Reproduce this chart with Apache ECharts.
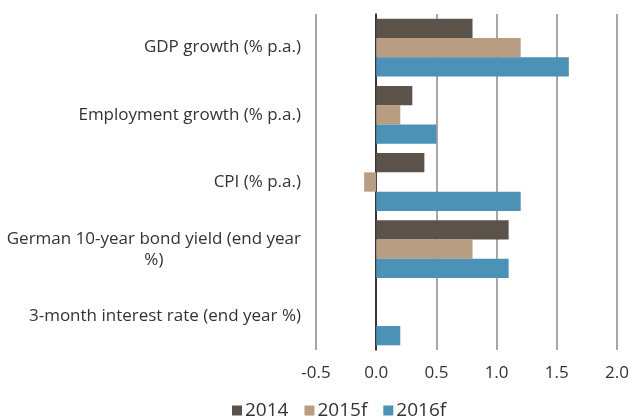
<!DOCTYPE html>
<html>
<head>
<meta charset="utf-8">
<script src="https://cdn.jsdelivr.net/npm/echarts@6/dist/echarts.min.js"></script>
<style>
  html, body { margin: 0; padding: 0; background: #fff; }
  #chart { width: 635px; height: 417px; }
</style>
</head>
<body>
<div id="chart"></div>
<script>
// categories, top to bottom
const categories = [
  'GDP growth (% p.a.)',
  'Employment growth (% p.a.)',
  'CPI (% p.a.)',
  'German 10-year bond yield (end year\n%)',
  '3-month interest rate (end year %)'
];
const seriesNames = ['2014', '2015f', '2016f'];
const values2014 = [0.8, 0.3, 0.4, 1.1, 0.0];
const values2015f = [1.2, 0.2, -0.1, 0.8, 0.0];
const values2016f = [1.6, 0.5, 1.2, 1.1, 0.2];
const xTicks = { min: -0.5, max: 2.0, step: 0.5 };

const colors = ['#5b5249', '#b99d82', '#4c91b6'];
const font = '"Open Sans", "DejaVu Sans", sans-serif';

const myChart = echarts.init(document.getElementById('chart'));

function bar(name, data, i) {
  return {
    name: name,
    type: 'bar',
    data: data,
    barGap: '0%',
    barCategoryGap: '14%',
    itemStyle: { color: colors[i] },
    animation: false
  };
}

const option = {
  animation: false,
  textStyle: { fontFamily: font },
  grid: { left: 316, right: 18, top: 14, bottom: 67 },
  legend: {
    top: 396,
    left: 227,
    itemWidth: 10,
    itemHeight: 10,
    itemGap: 16,
    icon: 'rect',
    textStyle: { fontSize: 19, color: '#333', fontFamily: font, padding: [0, 0, 0, -2] },
    data: seriesNames
  },
  xAxis: {
    type: 'value',
    min: xTicks.min,
    max: xTicks.max,
    interval: xTicks.step,
    axisLine: { show: false },
    axisTick: { show: false },
    axisLabel: {
      fontSize: 17,
      color: '#333',
      margin: 15,
      formatter: v => v.toFixed(1)
    },
    splitLine: { lineStyle: { color: '#8a8a8a', width: 1.5 } }
  },
  yAxis: {
    type: 'category',
    inverse: true,
    data: categories,
    axisLine: { show: true, onZero: true, lineStyle: { color: '#111', width: 1.5 } },
    axisTick: { show: false },
    axisLabel: {
      fontSize: 17,
      color: '#333',
      margin: 15,
      lineHeight: 21,
      formatter: function (v) {
        const parts = v.split('\n');
        if (parts.length === 1) return v;
        return '{a|' + parts[0] + '}\n{c|' + parts[1] + '}';
      },
      rich: {
        a: { fontSize: 17, color: '#333', lineHeight: 21, fontFamily: font },
        c: { fontSize: 17, color: '#333', lineHeight: 21, align: 'center', fontFamily: font }
      }
    }
  },
  series: [
    bar(seriesNames[0], values2014, 0),
    bar(seriesNames[1], values2015f, 1),
    bar(seriesNames[2], values2016f, 2)
  ]
};

myChart.setOption(option);
</script>
</body>
</html>
